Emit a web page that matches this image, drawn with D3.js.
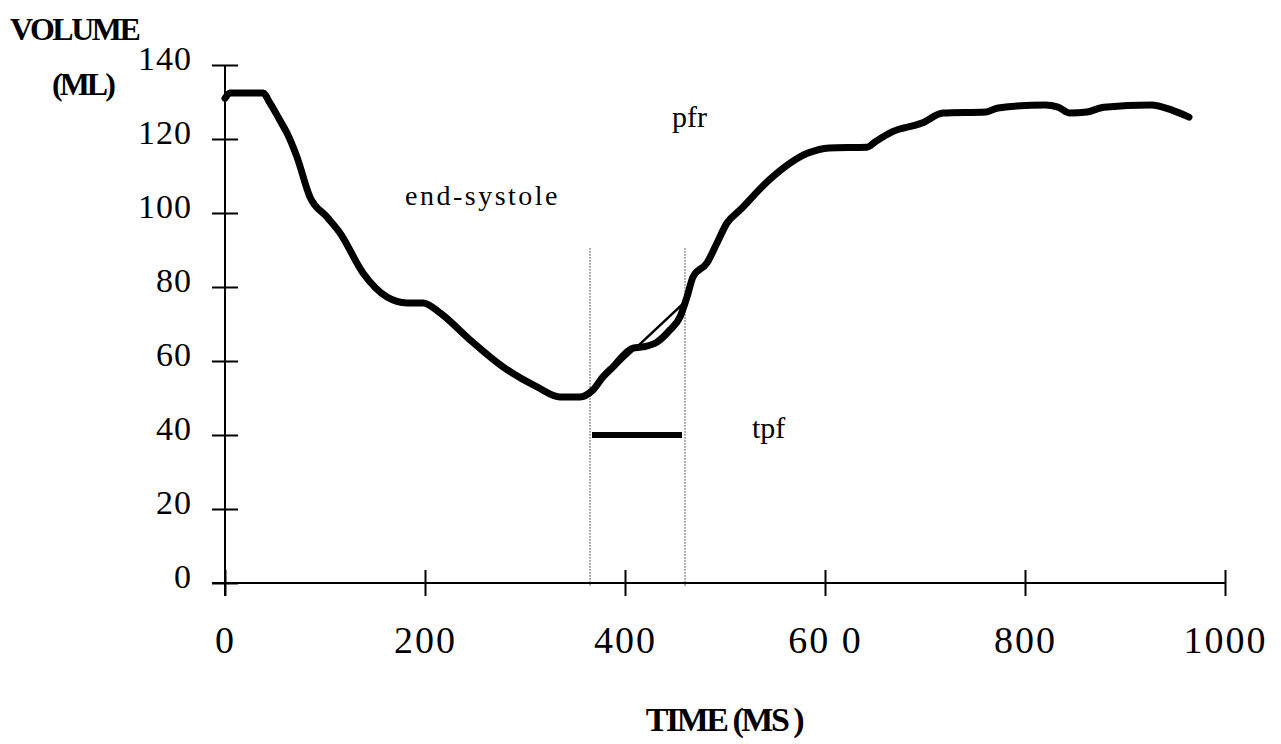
<!DOCTYPE html>
<html>
<head>
<meta charset="utf-8">
<script src="https://cdn.jsdelivr.net/npm/d3@7/dist/d3.min.js"></script>
<style>
  body { margin: 0; background: #fff; }
  svg { display: block; }
  text { font-family: "Liberation Serif", "Times New Roman", serif; fill: #000; }
</style>
</head>
<body>
<div id="chart"></div>
<script>
// volume curve (ms, ml)
const times = [0, 5, 38, 45, 55, 62, 72, 85, 102, 115, 138, 162, 182, 198, 215, 245, 278, 312, 335, 355,
  368, 378, 388, 408, 418, 432, 445, 455, 462, 468, 482, 492, 502, 515, 544, 583, 604, 642, 650, 667,
  697, 718, 761, 773, 820, 833, 845, 862, 879, 926, 947, 964];
const volumes = [131, 132.4, 132.4, 129.7, 125, 121.6, 115.1, 104.3, 98.9, 94.6, 83.8, 77.3, 75.7, 75.7, 73, 65.7, 58.4, 53, 50.3, 50.3,
  52.2, 55.7, 58.4, 63.5, 63.8, 65.1, 68.4, 71.9, 77.3, 82.7, 86.5, 91.9, 97.3, 100.8, 108.9, 116.2, 117.6, 117.8, 119.2, 121.9,
  124.3, 127, 127.3, 128.4, 129.2, 128.6, 127, 127.3, 128.6, 129.2, 127.8, 125.9];

// markers: end-systole / pfr dotted guides, tpf bar, pfr tangent
const guideTimes = [365, 460];
const guideTop = 90.5;
const tpfBar = [{ t: 367, v: 40 }, { t: 457, v: 40 }];
const tangent = [{ t: 385, v: 57 }, { t: 460, v: 76 }];

const xTicks = [0, 200, 400, 600, 800, 1000];
const xTickLabels = ["0", "200", "400", "60 0", "800", "1000"];
const yTicks = [0, 20, 40, 60, 80, 100, 120, 140];

const W = 1281, H = 744;
const svg = d3.select("#chart").append("svg").attr("width", W).attr("height", H);

const x = d3.scaleLinear().domain([0, 1000]).range([225, 1225]);
const y = d3.scaleLinear().domain([0, 140]).range([583, 65]);
const tick = 13;

// axes
const xAxis = d3.axisBottom(x).tickValues(xTicks).tickSizeInner(tick).tickSizeOuter(0)
  .tickFormat((d, i) => xTickLabels[i]).tickPadding(30);
const gx = svg.append("g").attr("transform", `translate(0,${y(0)})`).call(xAxis);
gx.select(".domain").remove();
gx.selectAll(".tick line").attr("y1", -tick).attr("y2", tick).attr("stroke", "#000").attr("stroke-width", 2);
gx.selectAll(".tick text").attr("font-size", 38).attr("letter-spacing", 2)
  .attr("font-family", "Liberation Serif").attr("dy", "0.71em");

const yAxis = d3.axisLeft(y).tickValues(yTicks).tickSizeInner(tick).tickSizeOuter(0).tickPadding(20);
const gy = svg.append("g").attr("transform", `translate(${x(0)},0)`).call(yAxis);
gy.select(".domain").remove();
gy.selectAll(".tick line").attr("x1", -tick).attr("x2", tick).attr("stroke", "#000").attr("stroke-width", 2);
gy.selectAll(".tick text").attr("font-size", 34).attr("letter-spacing", 1)
  .attr("font-family", "Liberation Serif").attr("dy", "0.12em");

svg.append("line").attr("x1", x(0) - tick).attr("x2", x(1000)).attr("y1", y(0)).attr("y2", y(0))
  .attr("stroke", "#000").attr("stroke-width", 2);
svg.append("line").attr("x1", x(0)).attr("x2", x(0)).attr("y1", y(140)).attr("y2", y(0) + tick)
  .attr("stroke", "#000").attr("stroke-width", 2);

// dotted guides
svg.selectAll(".guide").data(guideTimes).join("line").attr("class", "guide")
  .attr("x1", d => x(d)).attr("x2", d => x(d)).attr("y1", y(guideTop)).attr("y2", y(0) + 4)
  .attr("stroke", "#333").attr("stroke-width", 1).attr("stroke-dasharray", "1.5,1.5");

// volume curve
const data = times.map((t, i) => ({ t, v: volumes[i] }));
const line = d3.line().x(d => x(d.t)).y(d => y(d.v)).curve(d3.curveMonotoneX);
svg.append("path").datum(data).attr("d", line).attr("fill", "none")
  .attr("stroke", "#000").attr("stroke-width", 7).attr("stroke-linejoin", "round").attr("stroke-linecap", "round");

// pfr tangent and tpf bar
const straight = d3.line().x(d => x(d.t)).y(d => y(d.v));
svg.append("path").datum(tangent).attr("d", straight).attr("stroke", "#000").attr("stroke-width", 2.5).attr("fill", "none");
svg.append("path").datum(tpfBar).attr("d", straight).attr("stroke", "#000").attr("stroke-width", 6).attr("fill", "none");

// annotations
svg.append("text").attr("x", 405).attr("y", 205).attr("font-size", 28).attr("letter-spacing", 2.5).text("end-systole");
svg.append("text").attr("x", 672).attr("y", 127).attr("font-size", 30).text("pfr");
svg.append("text").attr("x", 752).attr("y", 438).attr("font-size", 30).text("tpf");

// axis titles
svg.append("text").attr("x", 10).attr("y", 40).attr("font-size", 32).attr("font-weight", "bold")
  .attr("letter-spacing", -2.5).text("VOLUME");
svg.append("text").attr("x", 52).attr("y", 95).attr("font-size", 32).attr("font-weight", "bold")
  .attr("letter-spacing", -3).text("(ML)");
svg.append("text").attr("x", 724).attr("y", 731).attr("text-anchor", "middle").attr("font-size", 34)
  .attr("font-weight", "bold").attr("letter-spacing", -2.5).text("TIME (MS )");
</script>
</body>
</html>
